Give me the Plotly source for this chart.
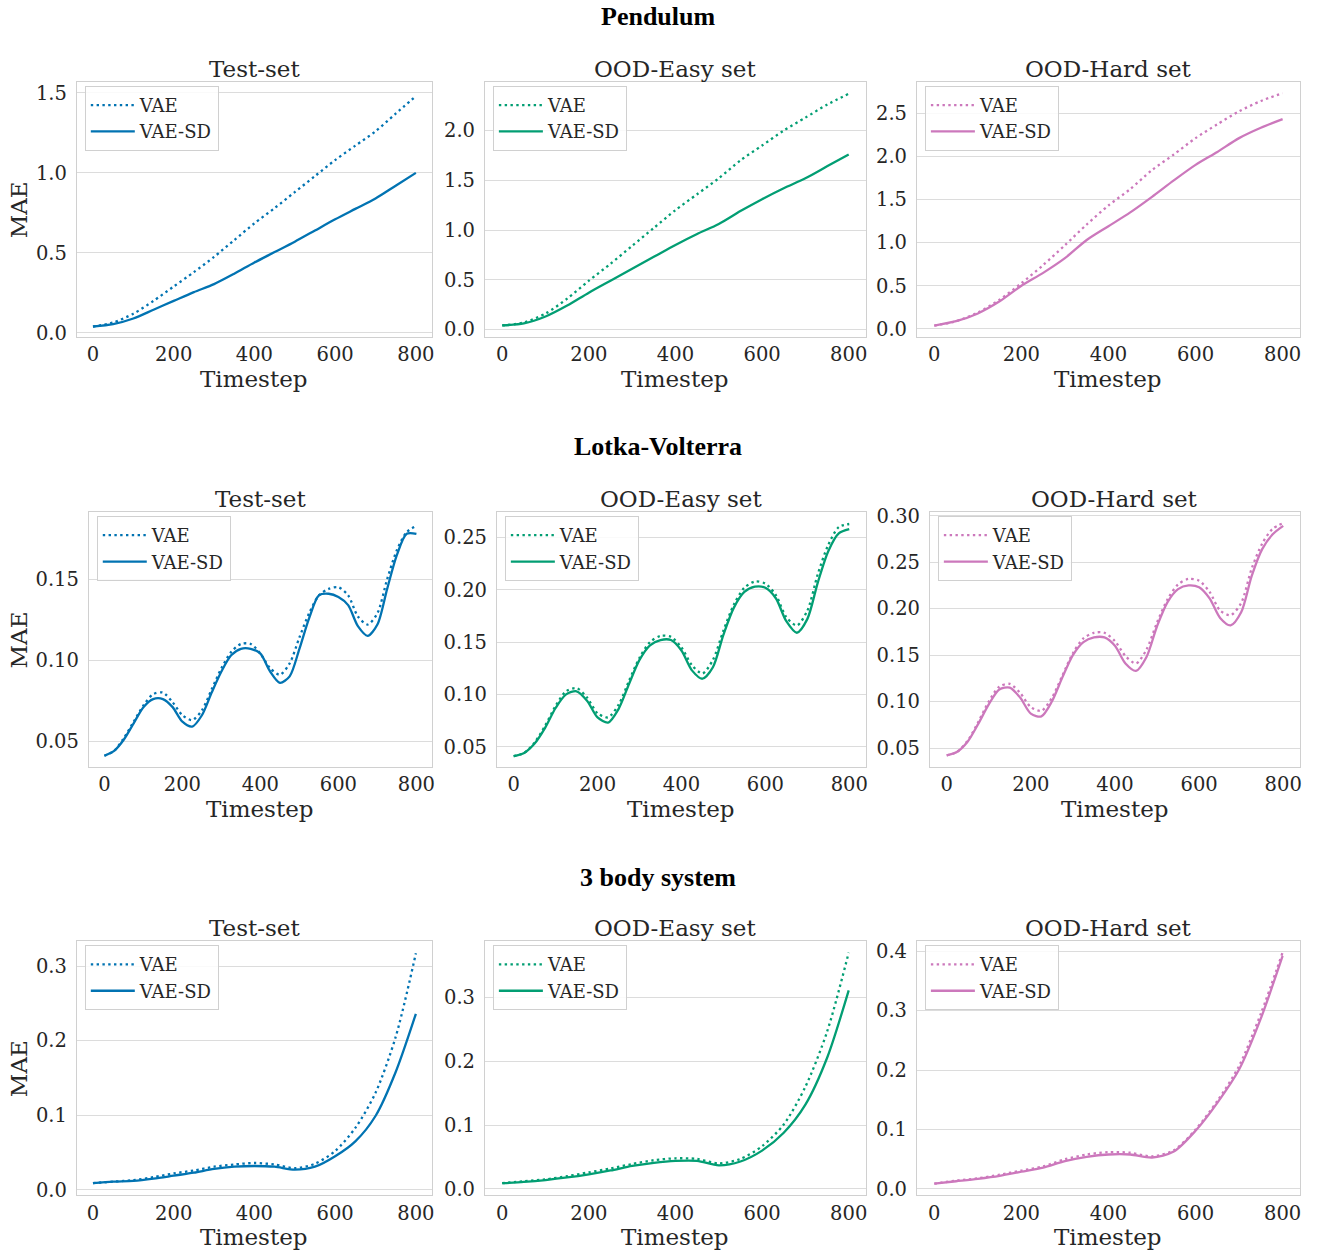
import plotly.graph_objects as go
from plotly.subplots import make_subplots

W, H = 1318, 1255

# ---------------- data ----------------
T50 = list(range(0, 801, 50))
T25 = list(range(0, 801, 25))

# Pendulum (t every 50)
pend_test_vae = [0.04, 0.065, 0.12, 0.20, 0.29, 0.38, 0.475, 0.58, 0.685, 0.78, 0.88, 0.98, 1.08, 1.17, 1.26, 1.37, 1.48]
pend_test_sd = [0.04, 0.055, 0.09, 0.145, 0.20, 0.255, 0.305, 0.37, 0.44, 0.505, 0.57, 0.64, 0.71, 0.775, 0.84, 0.92, 1.0]
pend_easy_vae = [0.04, 0.07, 0.16, 0.31, 0.49, 0.66, 0.84, 1.02, 1.20, 1.36, 1.52, 1.70, 1.85, 2.00, 2.13, 2.26, 2.37]
pend_easy_sd = [0.04, 0.06, 0.13, 0.24, 0.37, 0.49, 0.61, 0.73, 0.85, 0.96, 1.06, 1.19, 1.31, 1.42, 1.52, 1.64, 1.76]
pend_hard_vae = [0.04, 0.09, 0.19, 0.34, 0.53, 0.74, 0.97, 1.21, 1.43, 1.62, 1.84, 2.02, 2.21, 2.37, 2.52, 2.64, 2.73]
pend_hard_sd = [0.04, 0.09, 0.18, 0.32, 0.50, 0.65, 0.82, 1.03, 1.19, 1.35, 1.53, 1.72, 1.90, 2.05, 2.21, 2.33, 2.43]

# Lotka-Volterra (t every 25)
lv_test_vae = [0.041, 0.044, 0.052, 0.062, 0.072, 0.079, 0.080, 0.074, 0.066, 0.063, 0.069, 0.082, 0.095,
               0.105, 0.110, 0.110, 0.104, 0.095, 0.091, 0.098, 0.114, 0.129, 0.140, 0.144, 0.145, 0.140,
               0.127, 0.122, 0.129, 0.150, 0.168, 0.179, 0.183]
lv_test_sd = [0.041, 0.044, 0.051, 0.061, 0.071, 0.076, 0.076, 0.071, 0.062, 0.059, 0.066, 0.080, 0.093,
              0.103, 0.107, 0.107, 0.104, 0.093, 0.086, 0.090, 0.107, 0.126, 0.140, 0.141, 0.139, 0.134,
              0.121, 0.115, 0.122, 0.144, 0.165, 0.178, 0.178]
lv_easy_vae = [0.041, 0.044, 0.054, 0.070, 0.089, 0.103, 0.106, 0.097, 0.082, 0.078, 0.090, 0.113, 0.135,
               0.150, 0.156, 0.155, 0.145, 0.128, 0.120, 0.133, 0.161, 0.186, 0.202, 0.208, 0.206, 0.195,
               0.174, 0.166, 0.180, 0.215, 0.243, 0.260, 0.263]
lv_easy_sd = [0.041, 0.044, 0.053, 0.068, 0.087, 0.100, 0.103, 0.094, 0.078, 0.073, 0.086, 0.110, 0.133,
              0.147, 0.152, 0.152, 0.142, 0.123, 0.115, 0.126, 0.157, 0.183, 0.198, 0.203, 0.202, 0.192,
              0.170, 0.159, 0.172, 0.207, 0.237, 0.254, 0.258]
lv_hard_vae = [0.042, 0.046, 0.058, 0.078, 0.100, 0.116, 0.119, 0.109, 0.094, 0.090, 0.104, 0.128, 0.152,
               0.168, 0.174, 0.174, 0.165, 0.149, 0.141, 0.156, 0.185, 0.210, 0.226, 0.232, 0.230, 0.218,
               0.198, 0.193, 0.206, 0.243, 0.270, 0.286, 0.292]
lv_hard_sd = [0.042, 0.046, 0.057, 0.076, 0.097, 0.113, 0.115, 0.104, 0.087, 0.084, 0.100, 0.126, 0.150,
              0.164, 0.169, 0.169, 0.160, 0.141, 0.133, 0.148, 0.181, 0.207, 0.221, 0.225, 0.223, 0.211,
              0.190, 0.182, 0.196, 0.235, 0.264, 0.280, 0.289]

# 3 body system (t every 50)
tb_test_vae = [0.009, 0.011, 0.013, 0.017, 0.022, 0.026, 0.031, 0.034, 0.036, 0.034, 0.029, 0.035, 0.052, 0.083, 0.130, 0.205, 0.317]
tb_test_sd = [0.009, 0.011, 0.012, 0.015, 0.019, 0.023, 0.028, 0.031, 0.032, 0.031, 0.027, 0.031, 0.045, 0.065, 0.099, 0.158, 0.236]
tb_easy_vae = [0.009, 0.012, 0.015, 0.020, 0.026, 0.032, 0.039, 0.045, 0.048, 0.047, 0.040, 0.047, 0.067, 0.101, 0.160, 0.246, 0.370]
tb_easy_sd = [0.009, 0.011, 0.014, 0.018, 0.023, 0.029, 0.036, 0.041, 0.044, 0.044, 0.037, 0.043, 0.060, 0.088, 0.132, 0.205, 0.311]
tb_hard_vae = [0.009, 0.014, 0.018, 0.024, 0.031, 0.038, 0.050, 0.058, 0.062, 0.061, 0.055, 0.065, 0.100, 0.148, 0.207, 0.295, 0.398]
tb_hard_sd = [0.009, 0.013, 0.017, 0.022, 0.029, 0.036, 0.047, 0.054, 0.058, 0.058, 0.053, 0.063, 0.098, 0.145, 0.201, 0.287, 0.392]

row_titles = ["Pendulum", "Lotka-Volterra", "3 body system"]
col_titles = ["Test-set", "OOD-Easy set", "OOD-Hard set"]
series_names = ["VAE", "VAE-SD"]
x_ticks = [0, 200, 400, 600, 800]

# ---------------- styling / layout ----------------
BLUE, GREEN, PINK = "#0173b2", "#029e73", "#cc78bc"
col_colors = [BLUE, GREEN, PINK]
TXT = "#262626"
GRID = "#dcdcdc"
EDGE = "#d0d0d0"
FONT = "DejaVu Serif"


def py(y):
    # target picture row -> figure pixel row (compensates the capture's vertical offset/scale)
    return (y - 7.2) / 0.9877


def ypaper(y):
    return 1 - py(y) / H


# axes boxes in pixels of the target picture: (left, right, top, bottom)
boxes = [
    [(77, 433, 82, 337), (486, 868, 82, 337), (919, 1303, 82, 337)],
    [(89, 433, 512, 767), (498, 868, 512, 767), (932, 1303, 512, 767)],
    [(77, 433, 941, 1195), (486, 868, 941, 1195), (919, 1303, 941, 1195)],
]
y_ranges = [
    [(-0.025, 1.569), (-0.075, 2.49), (-0.092, 2.862)],
    [(0.034, 0.1915), (0.0305, 0.2745), (0.0295, 0.304)],
    [(-0.0072, 0.3334), (-0.0098, 0.388), (-0.0105, 0.417)],
]
y_dticks = [[0.5, 0.5, 0.5], [0.05, 0.05, 0.05], [0.1, 0.1, 0.1]]
y_fmt = [".1f", ".2f", ".1f"]

panels = [
    [(T50, pend_test_vae, pend_test_sd), (T50, pend_easy_vae, pend_easy_sd), (T50, pend_hard_vae, pend_hard_sd)],
    [(T25, lv_test_vae, lv_test_sd), (T25, lv_easy_vae, lv_easy_sd), (T25, lv_hard_vae, lv_hard_sd)],
    [(T50, tb_test_vae, tb_test_sd), (T50, tb_easy_vae, tb_easy_sd), (T50, tb_hard_vae, tb_hard_sd)],
]

fig = make_subplots(rows=3, cols=3)

annotations = []
layout_extra = {}
for r in range(3):
    for c in range(3):
        idx = r * 3 + c + 1
        L, R, T, B = boxes[r][c]
        xd = [L / W, R / W]
        yd = [ypaper(B), ypaper(T)]
        color = col_colors[c]
        lg = "legend" if idx == 1 else f"legend{idx}"
        t, vae, sd = panels[r][c]
        fig.add_trace(go.Scatter(x=t, y=vae, name=series_names[0], mode="lines",
                                 line=dict(color=color, width=2.3, dash="2.4px,3.4px", shape="spline", smoothing=0.8),
                                 legend=lg), row=r + 1, col=c + 1)
        fig.add_trace(go.Scatter(x=t, y=sd, name=series_names[1], mode="lines",
                                 line=dict(color=color, width=2.3, shape="spline", smoothing=0.8),
                                 legend=lg), row=r + 1, col=c + 1)
        xa = "xaxis" if idx == 1 else f"xaxis{idx}"
        ya = "yaxis" if idx == 1 else f"yaxis{idx}"
        layout_extra[xa] = dict(domain=xd, range=[-40, 840], tickvals=x_ticks, showgrid=False,
                                zeroline=False, showline=True, mirror=True, linecolor=EDGE, linewidth=1,
                                ticks="", ticklabelstandoff=0,
                                tickfont=dict(family=FONT, size=19.5, color=TXT))
        layout_extra[ya] = dict(domain=yd, range=list(y_ranges[r][c]), dtick=y_dticks[r][c], tick0=0,
                                tickformat=y_fmt[r], showgrid=True, gridcolor=GRID, gridwidth=1,
                                zeroline=False, showline=True, mirror=True, linecolor=EDGE, linewidth=1,
                                ticks="", ticklabelstandoff=5,
                                tickfont=dict(family=FONT, size=19.5, color=TXT))
        layout_extra[lg] = dict(x=(L + 8) / W, y=ypaper(T + 4), xanchor="left", yanchor="top",
                                bgcolor="rgba(255,255,255,0.85)", bordercolor=EDGE, borderwidth=1,
                                font=dict(family=FONT, size=18, color=TXT), tracegroupgap=0,
                                itemwidth=44)
        # subplot title
        annotations.append(dict(text=col_titles[c], x=(L + R) / 2 / W, y=ypaper(T - 13),
                                xref="paper", yref="paper", xanchor="center", yanchor="middle",
                                showarrow=False, font=dict(family=FONT, size=23, color=TXT)))
        # x label
        annotations.append(dict(text="Timestep", x=(L + R) / 2 / W, y=ypaper(B + 42),
                                xref="paper", yref="paper", xanchor="center", yanchor="middle",
                                showarrow=False, font=dict(family=FONT, size=23, color=TXT)))
        if c == 0:
            annotations.append(dict(text="MAE", x=19 / W, y=ypaper((T + B) / 2),
                                    xref="paper", yref="paper", xanchor="center", yanchor="middle",
                                    textangle=-90, showarrow=False,
                                    font=dict(family=FONT, size=23, color=TXT)))

row_title_y = [17, 447, 877]
for r in range(3):
    annotations.append(dict(text=f"<b>{row_titles[r]}</b>", x=0.5, y=ypaper(row_title_y[r]),
                            xref="paper", yref="paper", xanchor="center", yanchor="middle",
                            showarrow=False, font=dict(family="Liberation Serif", size=26, color="black")))

fig.update_layout(
    width=W, height=H,
    margin=dict(l=0, r=0, t=0, b=0),
    paper_bgcolor="white", plot_bgcolor="white",
    annotations=annotations,
    showlegend=True,
    **layout_extra,
)

fig.write_html(
    "out.html",
    config={"displayModeBar": False},
    post_script=(
        "document.body.style.margin='0';"
        "document.documentElement.style.overflow='hidden';"
        "var gd=document.getElementById('{plot_id}');"
        "gd.style.position='fixed';gd.style.top='0px';gd.style.left='0px';"
    ),
)
